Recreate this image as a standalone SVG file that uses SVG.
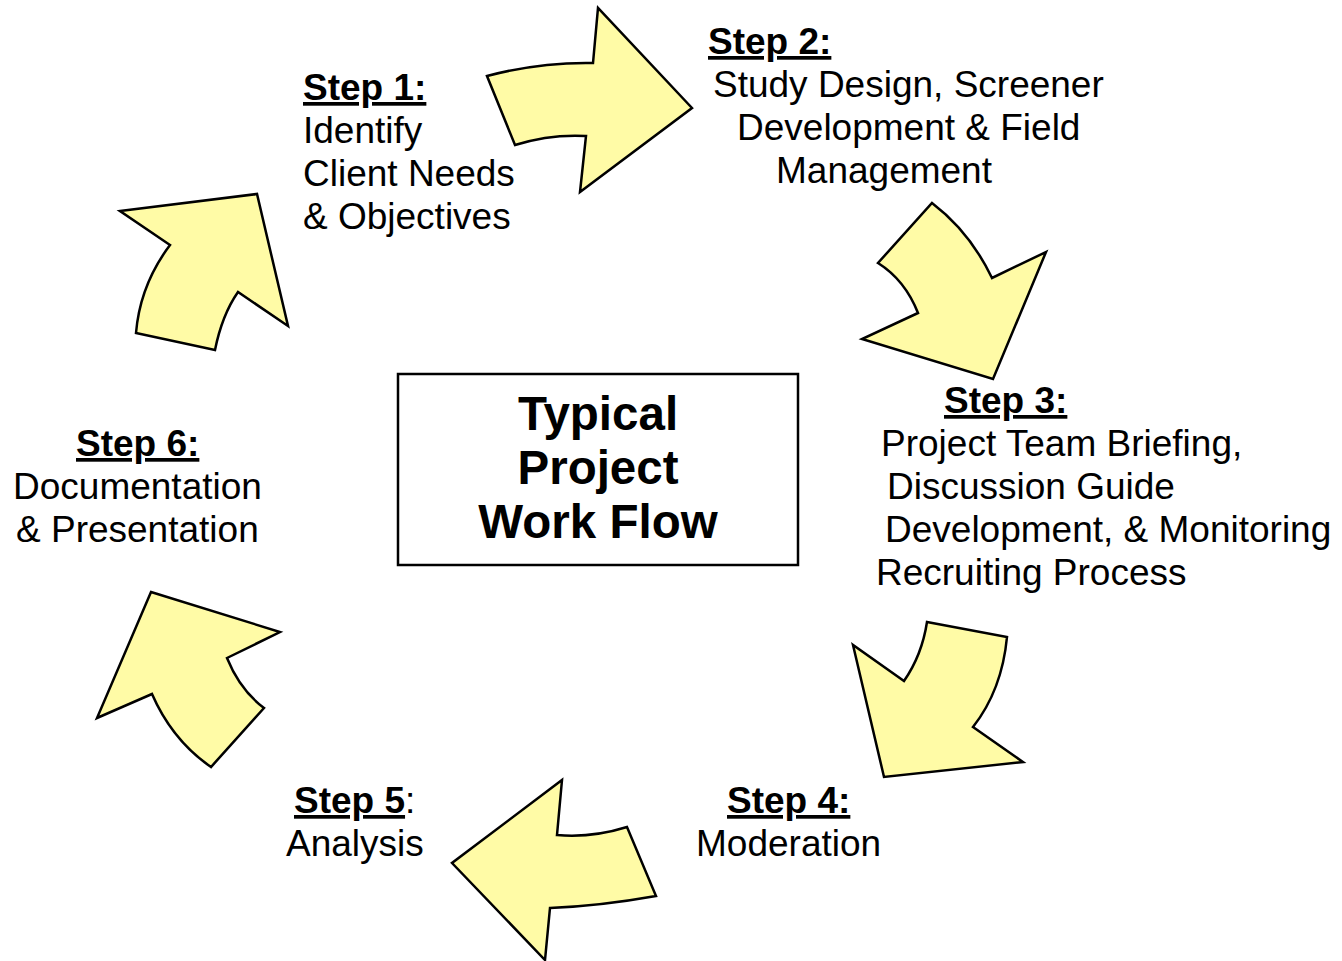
<svg xmlns="http://www.w3.org/2000/svg" width="1342" height="961" viewBox="0 0 1342 961">
<style>
.arrow{fill:#FFFBA6;stroke:#000;stroke-width:2.5;stroke-linejoin:miter}
text{font-family:"Liberation Sans",Arial,sans-serif;font-size:37px;fill:#000}
.step{font-weight:bold;text-decoration:underline}
.title{font-weight:bold;font-size:47.5px;text-anchor:middle}
</style>
<rect width="1342" height="961" fill="#fff"/>
<g id="connectors">
<path class="arrow" d="M487,76 Q540,62 593,63 L598,8 L692,108 L580,192 L586,136 Q550,134 515,145 Z"/>
<path class="arrow" d="M932,203 Q970,232 992,278 L1046,252 L993,379 L862,339 L918,313 Q905,280 878,263 Z"/>
<path class="arrow" d="M927,622 L1007,637 Q1002,690 973,727 L1023,762 L884,777 L853,645 L904,681 Q922,655 927,622 Z"/>
<path class="arrow" d="M562,780 L557,835 Q592,838 627,827 L656,896 Q600,906 550,908 L545,960 L452,863 Z"/>
<path class="arrow" d="M151,592 L280,632 L227,658 Q240,690 264,708 L211,767 Q172,740 152,694 L97,718 Z"/>
<path class="arrow" d="M120,211 L257,194 L288,326 L238,292 Q222,315 215,350 L136,333 Q140,285 170,245 Z"/>
</g>
<g id="center">
<rect x="398" y="374" width="400" height="191" fill="#fff" stroke="#000" stroke-width="2.5"/>
<text class="title" x="598" y="430">Typical</text>
<text class="title" x="598" y="484">Project</text>
<text class="title" x="598" y="538">Work Flow</text>
</g>
<g id="step1">
<text class="step" x="303" y="100">Step 1:</text>
<text x="303" y="143">Identify</text>
<text x="303" y="186">Client Needs</text>
<text x="303" y="229">&amp; Objectives</text>
</g>
<g id="step2">
<text class="step" x="708" y="54">Step 2:</text>
<text x="713" y="97">Study Design, Screener</text>
<text x="737" y="140">Development &amp; Field</text>
<text x="776" y="183">Management</text>
</g>
<g id="step3">
<text class="step" x="944" y="413">Step 3:</text>
<text x="881" y="456">Project Team Briefing,</text>
<text x="887" y="499">Discussion Guide</text>
<text x="885" y="542">Development, &amp; Monitoring</text>
<text x="876" y="585">Recruiting Process</text>
</g>
<g id="step4">
<text class="step" x="727" y="813">Step 4:</text>
<text x="696" y="856">Moderation</text>
</g>
<g id="step5">
<text x="294" y="813"><tspan class="step">Step 5</tspan>:</text>
<text x="286" y="856">Analysis</text>
</g>
<g id="step6">
<text class="step" x="76" y="456">Step 6:</text>
<text x="13" y="499">Documentation</text>
<text x="16" y="542">&amp; Presentation</text>
</g>
</svg>
